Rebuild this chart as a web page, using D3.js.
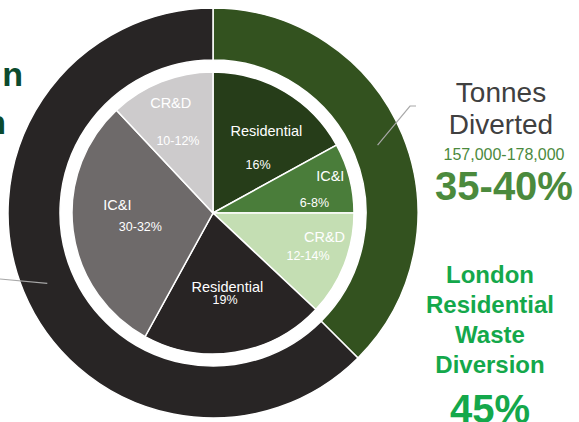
<!DOCTYPE html>
<html>
<head>
<meta charset="utf-8">
<script src="https://cdn.jsdelivr.net/npm/d3@7/dist/d3.min.js"></script>
<style>
  html, body { margin: 0; padding: 0; background: #ffffff; }
  svg { display: block; font-family: "Liberation Sans", Arial, sans-serif; }
</style>
</head>
<body>
<svg id="chart" width="579" height="422"></svg>
<script>
// ---- data ----
const ringCategories = ["Tonnes Diverted", "Not Diverted"];
const ringValues = [37.5, 62.5];

const sliceCategories = ["Residential", "IC&I", "CR&D", "Residential", "IC&I", "CR&D"];
const sliceShares = [17, 8, 12, 21, 30, 12];
const sliceValueLabels = ["16%", "6-8%", "12-14%", "19%", "30-32%", "10-12%"];

const divertedTonnes = "157,000-178,000";
const divertedPercent = "35-40%";
const residentialDiversionTitle = ["London", "Residential", "Waste", "Diversion"];
const residentialDiversionPercent = "45%";

// ---- styles ----
const ringColors = ["#33521f", "#282525"];
const sliceColors = ["#263d19", "#4a7d3a", "#c4deb3", "#282424", "#6e6a6a", "#cdcbcc"];

const svg = d3.select("#chart");
const cx = 213, cy = 213;
const g = svg.append("g").attr("transform", `translate(${cx},${cy})`);

const pie = d3.pie().sort(null).value(d => d).startAngle(0).endAngle(2 * Math.PI);

// outer ring
const ringArc = d3.arc().innerRadius(153).outerRadius(205);
g.selectAll("path.ring")
  .data(pie(ringValues))
  .join("path")
  .attr("class", "ring")
  .attr("d", ringArc)
  .attr("fill", (d, i) => ringColors[i])
  .attr("stroke", "#ffffff")
  .attr("stroke-width", 1.5);

// inner pie
const pieArc = d3.arc().innerRadius(0).outerRadius(141);
const sliceArcs = pie(sliceShares);
g.selectAll("path.slice")
  .data(sliceArcs)
  .join("path")
  .attr("class", "slice")
  .attr("d", pieArc)
  .attr("fill", (d, i) => sliceColors[i])
  .attr("stroke", "#ffffff")
  .attr("stroke-width", 1.5);

// label placement (radius, angle in degrees clockwise from top) for name and value
const labelPolar = [
  [98, 33, 66, 43],
  [123, 72.5, 102, 84],
  [114, 102, 104, 114],
  [75, 169, 87, 172],
  [96, 275, 74, 259],
  [118, 339, 80, 334]
];
const polar = (r, deg) => {
  const a = deg * Math.PI / 180;
  return [r * Math.sin(a), -r * Math.cos(a)];
};

sliceArcs.forEach((d, i) => {
  const [rn, an, rv, av] = labelPolar[i];
  const pn = polar(rn, an), pv = polar(rv, av);
  g.append("text")
    .attr("x", pn[0]).attr("y", pn[1]).attr("dy", "0.35em")
    .attr("text-anchor", "middle")
    .attr("font-size", 14.5)
    .attr("fill", "#ffffff")
    .text(sliceCategories[i]);
  g.append("text")
    .attr("x", pv[0]).attr("y", pv[1]).attr("dy", "0.35em")
    .attr("text-anchor", "middle")
    .attr("font-size", 12.5)
    .attr("fill", "#ffffff")
    .text(sliceValueLabels[i]);
});

// leader lines
const rStart = polar(178, 67.6);
svg.append("polyline")
  .attr("points", [[cx + rStart[0], cy + rStart[1]], [410, 106], [416, 106]].map(p => p.join(",")).join(" "))
  .attr("fill", "none").attr("stroke", "#a8a8a8").attr("stroke-width", 1.2);
const lStart = polar(180, 247);
svg.append("line")
  .attr("x1", cx + lStart[0]).attr("y1", cy + lStart[1])
  .attr("x2", 0).attr("y2", 279)
  .attr("stroke", "#a8a8a8").attr("stroke-width", 1.2);

// right annotations
const ringTitle = ringCategories[0].split(" ");
svg.selectAll("text.tt")
  .data(ringTitle)
  .join("text")
  .attr("class", "tt")
  .attr("x", 501).attr("y", (d, i) => 102 + i * 32)
  .attr("text-anchor", "middle")
  .attr("font-size", 28)
  .attr("fill", "#404040")
  .text(d => d);

svg.append("text")
  .attr("x", 504).attr("y", 160)
  .attr("text-anchor", "middle")
  .attr("font-size", 16)
  .attr("fill", "#4b8a3d")
  .text(divertedTonnes);

svg.append("text")
  .attr("x", 504).attr("y", 200)
  .attr("text-anchor", "middle")
  .attr("font-size", 40).attr("font-weight", "bold")
  .attr("fill", "#4b8a3d")
  .text(divertedPercent);

svg.selectAll("text.ld")
  .data(residentialDiversionTitle)
  .join("text")
  .attr("class", "ld")
  .attr("x", 490).attr("y", (d, i) => 283 + i * 30)
  .attr("text-anchor", "middle")
  .attr("font-size", 24).attr("font-weight", "bold")
  .attr("fill", "#14a84b")
  .text(d => d);

svg.append("text")
  .attr("x", 490).attr("y", 423)
  .attr("text-anchor", "middle")
  .attr("font-size", 40).attr("font-weight", "bold")
  .attr("fill", "#14a84b")
  .text(residentialDiversionPercent);

// left cut-off title fragments
svg.append("text")
  .attr("x", 23).attr("y", 86)
  .attr("text-anchor", "end")
  .attr("font-size", 34).attr("font-weight", "bold")
  .attr("fill", "#0b4a2d")
  .text("n");
svg.append("text")
  .attr("x", 6).attr("y", 134)
  .attr("text-anchor", "end")
  .attr("font-size", 34).attr("font-weight", "bold")
  .attr("fill", "#0b4a2d")
  .text("n");
</script>
</body>
</html>
